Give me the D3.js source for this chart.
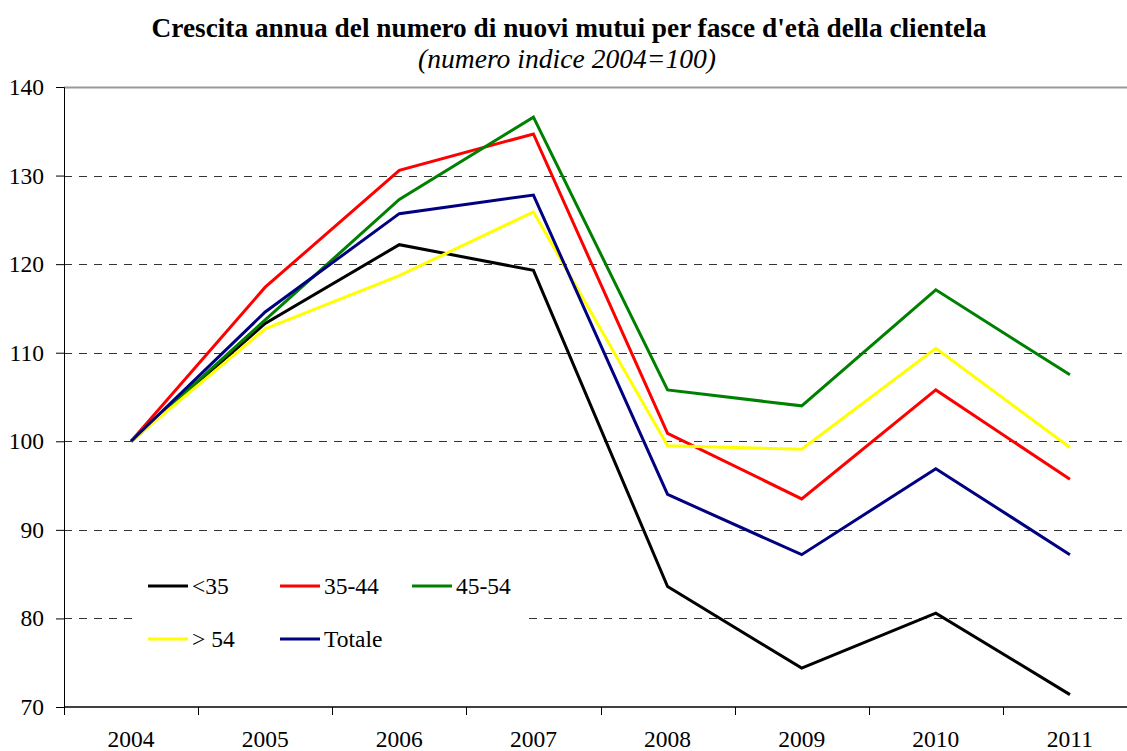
<!DOCTYPE html>
<html>
<head>
<meta charset="utf-8">
<script src="https://cdn.jsdelivr.net/npm/d3@7"></script>
<style>
  body { margin: 0; background: #fff; }
  svg text { font-family: "Liberation Serif", "DejaVu Serif", serif; }
</style>
</head>
<body>
<div id="chart"></div>
<script>
// anni
var years = ["2004", "2005", "2006", "2007", "2008", "2009", "2010", "2011"];

// numero indice 2004=100 per fascia d'età
var under35 = [100, 113.3, 122.2, 119.3, 83.6, 74.4, 80.6, 71.4];
var from35to44 = [100, 117.4, 130.6, 134.7, 100.9, 93.5, 105.8, 95.7];
var from45to54 = [100, 113.7, 127.3, 136.6, 105.8, 104.0, 117.1, 107.5];
var over54 = [100, 112.7, 118.7, 125.9, 99.5, 99.1, 110.5, 99.3];
var totale = [100, 114.6, 125.7, 127.8, 94.0, 87.2, 96.9, 87.2];

var yTicks = [70, 80, 90, 100, 110, 120, 130, 140];

var series = [
    { name: "<35", values: under35, color: "#000000" },
    { name: "35-44", values: from35to44, color: "#ff0000" },
    { name: "45-54", values: from45to54, color: "#008000" },
    { name: "> 54", values: over54, color: "#ffff00" },
    { name: "Totale", values: totale, color: "#000080" }
];

var serif = "'Liberation Serif', 'DejaVu Serif', serif";
var width = 1127, height = 751;
var margin = {top: 87, left: 64, bottom: 44};
var plotRight = 1137;
var fs = 23.5;

var svg = d3.select("#chart").append("svg")
    .attr("width", width)
    .attr("height", height)
    .attr("font-family", serif);

// title
svg.append("text")
    .attr("x", 569).attr("y", 37)
    .attr("text-anchor", "middle")
    .attr("font-family", serif)
    .attr("font-weight", "bold")
    .attr("font-size", 27.3)
    .text("Crescita annua del numero di nuovi mutui per fasce d'età della clientela");
svg.append("text")
    .attr("x", 567).attr("y", 68)
    .attr("text-anchor", "middle")
    .attr("font-family", serif)
    .attr("font-style", "italic")
    .attr("font-size", 27.6)
    .text("(numero indice 2004=100)");

var x = d3.scaleBand()
    .domain(years)
    .range([margin.left, plotRight]);

var y = d3.scaleLinear()
    .domain([70, 140])
    .range([height - margin.bottom, margin.top]);

// gridlines
svg.append("g")
    .selectAll("line")
    .data(yTicks.filter(function(d) { return d > 70; }))
    .enter().append("line")
    .attr("x1", margin.left)
    .attr("x2", plotRight)
    .attr("y1", function(d) { return Math.round(y(d)) + 0.5; })
    .attr("y2", function(d) { return Math.round(y(d)) + 0.5; })
    .attr("stroke", function(d) { return d == 140 ? "#999" : "#333"; })
    .attr("stroke-width", function(d) { return d == 140 ? 2 : 1; })
    .attr("stroke-dasharray", function(d) { return d == 140 ? null : "8,7"; });

// y axis
var yAxis = svg.append("g")
    .attr("transform", "translate(" + margin.left + ",0)")
    .call(d3.axisLeft(y).tickValues(yTicks).tickSize(8).tickPadding(12))
    .attr("font-family", serif)
    .attr("font-size", fs);
yAxis.selectAll("text").attr("fill", "#000");
yAxis.select(".domain").attr("stroke", "#000");

// x axis, ticks on band boundaries
var xAxis = svg.append("g")
    .attr("transform", "translate(0," + (height - margin.bottom) + ")");
xAxis.append("line")
    .attr("x1", margin.left).attr("x2", plotRight)
    .attr("stroke", "#000").attr("stroke-width", 1.5);
xAxis.selectAll("line.tick")
    .data(years)
    .enter().append("line")
    .attr("class", "tick")
    .attr("x1", function(d) { return Math.round(x(d)) + 0.5; })
    .attr("x2", function(d) { return Math.round(x(d)) + 0.5; })
    .attr("y1", 0).attr("y2", 8)
    .attr("stroke", "#000");
xAxis.selectAll("text")
    .data(years)
    .enter().append("text")
    .attr("x", function(d) { return x(d) + x.bandwidth() / 2; })
    .attr("y", 40)
    .attr("text-anchor", "middle")
    .attr("font-family", serif)
    .attr("font-size", fs)
    .text(function(d) { return d; });

// legend background
svg.append("rect")
    .attr("x", 133).attr("y", 560)
    .attr("width", 396).attr("height", 105)
    .attr("fill", "#fff");

// lines
var line = d3.line()
    .x(function(d, i) { return x(years[i]) + x.bandwidth() / 2; })
    .y(function(d) { return y(d); });

svg.append("g")
    .selectAll("path")
    .data(series)
    .enter().append("path")
    .attr("d", function(d) { return line(d.values); })
    .attr("fill", "none")
    .attr("stroke", function(d) { return d.color; })
    .attr("stroke-width", 3)
    .attr("stroke-linejoin", "miter");

// legend
var legend = svg.append("g")
    .selectAll("g")
    .data(series)
    .enter().append("g")
    .attr("transform", function(d, i) {
        return "translate(" + (148 + (i % 3) * 132) + "," + (586 + Math.floor(i / 3) * 53) + ")";
    });
legend.append("line")
    .attr("x1", 0).attr("x2", 40)
    .attr("stroke", function(d) { return d.color; })
    .attr("stroke-width", 3);
legend.append("text")
    .attr("x", 44).attr("y", 8)
    .attr("font-family", serif)
    .attr("font-size", fs)
    .text(function(d) { return d.name; });
</script>
</body>
</html>
